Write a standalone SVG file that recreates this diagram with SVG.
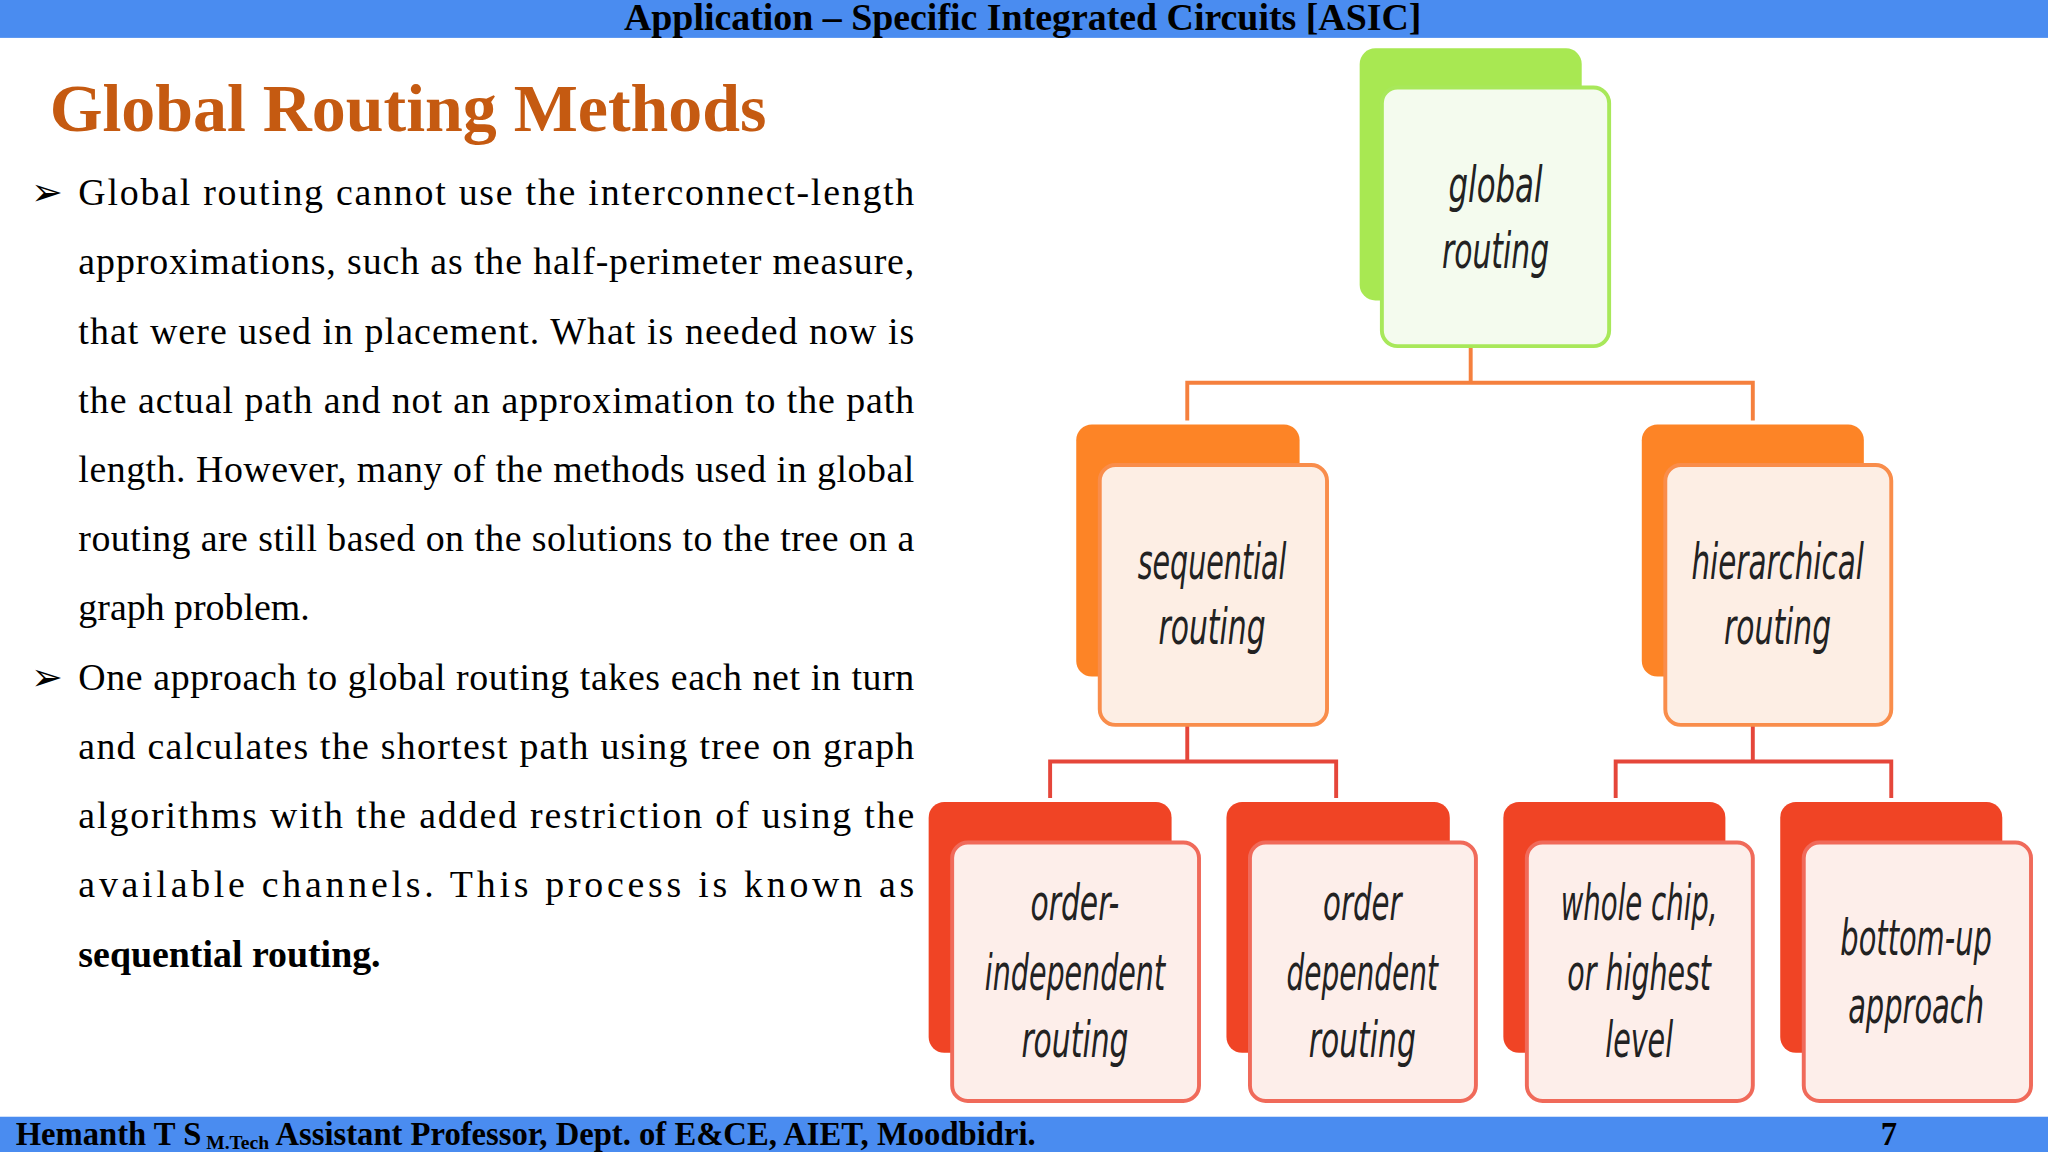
<svg xmlns="http://www.w3.org/2000/svg" width="2048" height="1152" viewBox="0 0 2048 1152">
<style>
.bar{fill:#4a8cf0}
.hd{font-family:"Liberation Serif",serif;font-weight:bold;fill:#000}
.body{font-family:"Liberation Serif",serif;font-size:29px;fill:#000}
.bt{font-family:"DejaVu Sans Condensed","Liberation Sans",sans-serif;font-style:italic;font-weight:300;font-size:38px;fill:#222;text-anchor:middle}
.c1{fill:none;stroke:#f5803e;stroke-width:3}
.c2{fill:none;stroke:#e5463a;stroke-width:3}
</style>
<rect width="2048" height="1152" fill="#fff"/>
<g transform="scale(1.30612)">
<rect class="bar" x="0" y="0" width="1568" height="29"/>
<text class="hd" x="783" y="23" font-size="29" text-anchor="middle">Application – Specific Integrated Circuits [ASIC]</text>
<rect class="bar" x="0" y="855" width="1568" height="27"/>
<text class="hd" x="12" y="877" font-size="25">Hemanth T S<tspan font-size="15" dy="3"> M.Tech</tspan><tspan dy="-3"> Assistant Professor, Dept. of E&amp;CE, AIET, Moodbidri.</tspan></text>
<text class="hd" x="1440" y="877" font-size="25" font-weight="normal">7</text>
<text x="38" y="100" font-family="Liberation Serif,serif" font-weight="bold" font-size="52" fill="#c55a11">Global Routing Methods</text>
<g class="body">
<text x="24" y="157">➢</text>
<text x="60" y="157" textLength="640" lengthAdjust="spacing">Global routing cannot use the interconnect-length</text>
<text x="60" y="210" textLength="640" lengthAdjust="spacing">approximations, such as the half-perimeter measure,</text>
<text x="60" y="263" textLength="640" lengthAdjust="spacing">that were used in placement. What is needed now is</text>
<text x="60" y="316" textLength="640" lengthAdjust="spacing">the actual path and not an approximation to the path</text>
<text x="60" y="369" textLength="640" lengthAdjust="spacing">length. However, many of the methods used in global</text>
<text x="60" y="422" textLength="640" lengthAdjust="spacing">routing are still based on the solutions to the tree on a</text>
<text x="60" y="475">graph problem.</text>
<text x="24" y="528">➢</text>
<text x="60" y="528" textLength="640" lengthAdjust="spacing">One approach to global routing takes each net in turn</text>
<text x="60" y="581" textLength="640" lengthAdjust="spacing">and calculates the shortest path using tree on graph</text>
<text x="60" y="634" textLength="640" lengthAdjust="spacing">algorithms with the added restriction of using the</text>
<text x="60" y="687" textLength="640" lengthAdjust="spacing">available channels. This process is known as</text>
<text x="60" y="740" font-weight="bold">sequential routing.</text>
</g>
<g id="connectors">
<path class="c1" d="M1126 265V293M909 322V293H1342V322"/>
<path class="c2" d="M909 555V583M804 611V583H1023V611M1342 555V583M1237 611V583H1448V611"/>
</g>
<g id="global">
<rect x="1041" y="37" width="170" height="193" rx="12" fill="#a8e852"/>
<rect x="1058" y="67" width="174" height="198" rx="12" fill="#f4fbee" stroke="#a8e85a" stroke-width="3"/>
<text class="bt" x="1145" y="155" textLength="72" lengthAdjust="spacingAndGlyphs">global</text><text class="bt" x="1145" y="205" textLength="82" lengthAdjust="spacingAndGlyphs">routing</text>
</g>
<g id="sequential">
<rect x="824" y="325" width="171" height="193" rx="12" fill="#fd8426"/>
<rect x="842" y="356" width="174" height="199" rx="12" fill="#fdeee4" stroke="#f98d4b" stroke-width="3"/>
<text class="bt" x="928" y="443" textLength="114" lengthAdjust="spacingAndGlyphs">sequential</text><text class="bt" x="928" y="493" textLength="82" lengthAdjust="spacingAndGlyphs">routing</text>
</g>
<g id="hierarchical">
<rect x="1257" y="325" width="170" height="193" rx="12" fill="#fd8426"/>
<rect x="1275" y="356" width="173" height="199" rx="12" fill="#fdeee4" stroke="#f98d4b" stroke-width="3"/>
<text class="bt" x="1361" y="443" textLength="132" lengthAdjust="spacingAndGlyphs">hierarchical</text><text class="bt" x="1361" y="493" textLength="82" lengthAdjust="spacingAndGlyphs">routing</text>
</g>
<g id="orderindependent">
<rect x="711" y="614" width="186" height="192" rx="12" fill="#f04425"/>
<rect x="729" y="645" width="189" height="198" rx="12" fill="#fdeeea" stroke="#f06a5a" stroke-width="3"/>
<text class="bt" x="823" y="704" textLength="68" lengthAdjust="spacingAndGlyphs">order-</text><text class="bt" x="823" y="758" textLength="138" lengthAdjust="spacingAndGlyphs">independent</text><text class="bt" x="823" y="809" textLength="82" lengthAdjust="spacingAndGlyphs">routing</text>
</g>
<g id="orderdependent">
<rect x="939" y="614" width="171" height="192" rx="12" fill="#f04425"/>
<rect x="957" y="645" width="173" height="198" rx="12" fill="#fdeeea" stroke="#f06a5a" stroke-width="3"/>
<text class="bt" x="1043" y="704" textLength="60" lengthAdjust="spacingAndGlyphs">order</text><text class="bt" x="1043" y="758" textLength="116" lengthAdjust="spacingAndGlyphs">dependent</text><text class="bt" x="1043" y="809" textLength="82" lengthAdjust="spacingAndGlyphs">routing</text>
</g>
<g id="wholechip">
<rect x="1151" y="614" width="170" height="192" rx="12" fill="#f04425"/>
<rect x="1169" y="645" width="173" height="198" rx="12" fill="#fdeeea" stroke="#f06a5a" stroke-width="3"/>
<text class="bt" x="1255" y="704" textLength="120" lengthAdjust="spacingAndGlyphs">whole chip,</text><text class="bt" x="1255" y="758" textLength="110" lengthAdjust="spacingAndGlyphs">or highest</text><text class="bt" x="1255" y="809" textLength="52" lengthAdjust="spacingAndGlyphs">level</text>
</g>
<g id="bottomup">
<rect x="1363" y="614" width="170" height="192" rx="12" fill="#f04425"/>
<rect x="1381" y="645" width="174" height="198" rx="12" fill="#fdeeea" stroke="#f06a5a" stroke-width="3"/>
<text class="bt" x="1467" y="731" textLength="116" lengthAdjust="spacingAndGlyphs">bottom-up</text><text class="bt" x="1467" y="783" textLength="104" lengthAdjust="spacingAndGlyphs">approach</text>
</g>
</g>
</svg>
